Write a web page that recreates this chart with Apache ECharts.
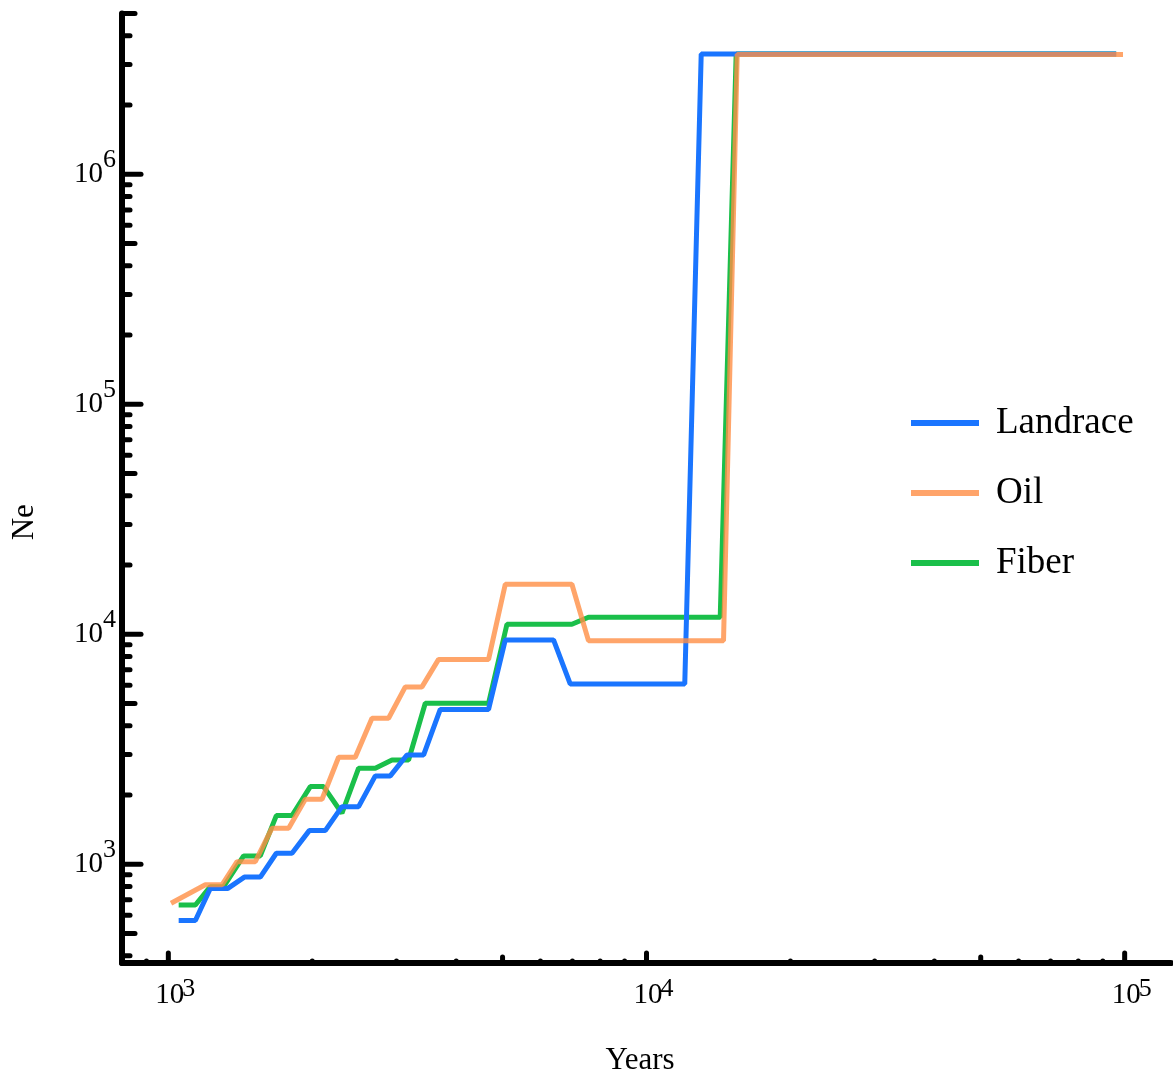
<!DOCTYPE html>
<html>
<head>
<meta charset="utf-8">
<script src="https://cdn.jsdelivr.net/npm/echarts@6/dist/echarts.min.js"></script>
<style>
  html, body { margin: 0; padding: 0; background: #ffffff; }
  #chart { width: 1173px; height: 1077px; }
</style>
</head>
<body>
<div id="chart"></div>
<script>
// Effective population size (Ne) through time, [years, Ne]
const landrace = [
  [1051, 569], [1139, 569], [1224, 785], [1332, 785], [1442, 879], [1557, 879],
  [1682, 1116], [1814, 1116], [1971, 1400], [2129, 1400], [2307, 1780], [2500, 1780],
  [2709, 2421], [2912, 2421], [3155, 2987], [3419, 2987], [3704, 4710], [4674, 4710],
  [5066, 9446], [6391, 9446], [6925, 6081], [12023, 6081], [13014, 3330000], [96000, 3330000]
];
const oil = [
  [1013, 677], [1195, 814], [1295, 814], [1392, 1026], [1520, 1026], [1647, 1434],
  [1785, 1434], [1934, 1917], [2096, 1917], [2270, 2919], [2460, 2919], [2666, 4313],
  [2888, 4313], [3130, 5902], [3392, 5902], [3674, 7772], [4674, 7772], [5066, 16500],
  [6982, 16500], [7562, 9380], [14490, 9380], [15477, 3320000], [99200, 3320000]
];
const fiber = [
  [1051, 665], [1139, 665], [1224, 799], [1305, 799], [1437, 1087], [1557, 1087],
  [1682, 1627], [1814, 1627], [1981, 2175], [2112, 2175], [2307, 1666], [2500, 2615],
  [2709, 2615], [2936, 2841], [3180, 2841], [3446, 5012], [4674, 5012], [5107, 11054],
  [6982, 11054], [7562, 11855], [14262, 11855], [15400, 3330000], [96000, 3330000]
];

// Axis ranges and tick positions (log scale, ticks at 2..9 of each decade)
const xRange = [800, 125000];
const yRange = [372, 5000000];
const xTickValues = [
  800, 900, 1000, 2000, 3000, 4000, 5000, 6000, 7000, 8000, 9000,
  10000, 20000, 30000, 40000, 50000, 60000, 70000, 80000, 90000, 100000
];
const yTickValues = [
  400, 500, 600, 700, 800, 900, 1000,
  2000, 3000, 4000, 5000, 6000, 7000, 8000, 9000, 10000,
  20000, 30000, 40000, 50000, 60000, 70000, 80000, 90000, 100000,
  200000, 300000, 400000, 500000, 600000, 700000, 800000, 900000, 1000000,
  2000000, 3000000, 4000000, 5000000
];

const COLORS = { Landrace: '#1a75ff', Oil: '#ff8f45', Fiber: '#1abf4a' };
const OIL_LEGEND = '#ffa46a';
const FONT = 'Liberation Serif';

// mantissa of a value on a decade: 1 -> major tick, 5 -> mid tick, else minor
function mantissa(v) {
  const e = Math.floor(Math.log10(v) + 1e-9);
  return Math.round(v / Math.pow(10, e));
}
function tickLength(v, lens) {
  const m = mantissa(v);
  return m === 1 ? lens[0] : (m === 5 ? lens[1] : lens[2]);
}
function exponentOf(v) {
  const l = Math.log10(v);
  const r = Math.round(l);
  return Math.abs(l - r) < 1e-6 ? r : null;
}

const X_TICK_LEN = [10, 6, 2];
const Y_TICK_LEN = [19, 13, 8];

function xTickItem(params, api) {
  const v = api.value(0);
  const p = api.coord([v, yRange[0]]);
  const len = tickLength(v, X_TICK_LEN);
  return {
    type: 'line',
    shape: { x1: p[0], y1: p[1], x2: p[0], y2: p[1] - len },
    style: { stroke: '#000', lineWidth: 5, lineCap: 'round' }
  };
}
function yTickItem(params, api) {
  const v = api.value(1);
  const p = api.coord([xRange[0], v]);
  const len = tickLength(v, Y_TICK_LEN);
  return {
    type: 'line',
    shape: { x1: p[0], y1: p[1], x2: p[0] + len, y2: p[1] },
    style: { stroke: '#000', lineWidth: 5, lineCap: 'round' }
  };
}

const chart = echarts.init(document.getElementById('chart'), null, { renderer: 'canvas' });

const option = {
  animation: false,
  backgroundColor: '#ffffff',
  grid: { left: 122, right: 2, top: 13.5, bottom: 114, containLabel: false, outerBoundsMode: 'none' },
  legend: {
    orient: 'vertical',
    left: 906,
    top: 398,
    padding: 5,
    icon: 'rect',
    itemWidth: 68,
    itemHeight: 6,
    itemGap: 30,
    selectedMode: false,
    textStyle: { fontFamily: FONT, fontSize: 37, lineHeight: 40, color: '#000', padding: [0, 0, 0, 12] },
    data: [
      { name: 'Landrace', itemStyle: { color: COLORS.Landrace } },
      { name: 'Oil', itemStyle: { color: OIL_LEGEND } },
      { name: 'Fiber', itemStyle: { color: COLORS.Fiber } }
    ]
  },
  xAxis: {
    type: 'log',
    logBase: 10,
    min: xRange[0],
    max: xRange[1],
    name: 'Years',
    nameLocation: 'middle',
    nameGap: 82,
    nameTextStyle: { fontFamily: FONT, fontSize: 31, color: '#000', padding: [0, 13, 0, 0] },
    axisLine: { show: true, lineStyle: { color: '#000', width: 6 } },
    axisTick: { show: false },
    minorTick: { show: false },
    splitLine: { show: false },
    axisLabel: {
      margin: 13,
      showMinLabel: false,
      showMaxLabel: false,
      formatter: function (v) {
        const e = exponentOf(v);
        return e === null ? '' : '{p| }{b|10}{s|' + e + '}';
      },
      rich: {
        p: { width: 16, fontSize: 10 },
        b: { fontFamily: FONT, fontSize: 29, lineHeight: 38, width: 25, color: '#000' },
        s: { fontFamily: FONT, fontSize: 26, lineHeight: 26, verticalAlign: 'top', color: '#000' }
      }
    }
  },
  yAxis: {
    type: 'log',
    logBase: 10,
    min: yRange[0],
    max: yRange[1],
    name: 'Ne',
    nameLocation: 'middle',
    nameGap: 82,
    nameRotate: 90,
    nameTextStyle: { fontFamily: FONT, fontSize: 31, color: '#000', padding: [0, 68, 0, 0] },
    axisLine: { show: true, lineStyle: { color: '#000', width: 6 } },
    axisTick: { show: false },
    minorTick: { show: false },
    splitLine: { show: false },
    axisLabel: {
      margin: 6,
      showMinLabel: false,
      showMaxLabel: false,
      formatter: function (v) {
        const e = exponentOf(v);
        return e === null ? '' : '{b|10}{s|' + e + '}';
      },
      rich: {
        b: { fontFamily: FONT, fontSize: 29, lineHeight: 54, width: 27, color: '#000' },
        s: { fontFamily: FONT, fontSize: 26, lineHeight: 24, verticalAlign: 'top', color: '#000' }
      }
    }
  },
  series: [
    {
      name: 'Fiber', type: 'line', data: fiber, symbol: 'none', showSymbol: false,
      lineStyle: { width: 5, color: COLORS.Fiber }, itemStyle: { color: COLORS.Fiber },
      silent: true, z: 2
    },
    {
      name: 'Landrace', type: 'line', data: landrace, symbol: 'none', showSymbol: false,
      lineStyle: { width: 5, color: COLORS.Landrace }, itemStyle: { color: COLORS.Landrace },
      silent: true, z: 3
    },
    {
      name: 'Oil', type: 'line', data: oil, symbol: 'none', showSymbol: false,
      lineStyle: { width: 5, color: COLORS.Oil, opacity: 0.8 }, itemStyle: { color: COLORS.Oil },
      silent: true, z: 4
    },
    {
      name: 'xTicks', type: 'custom', renderItem: xTickItem,
      data: xTickValues.map(v => [v, yRange[0]]), encode: { x: 0, y: 1 },
      silent: true, z: 5
    },
    {
      name: 'yTicks', type: 'custom', renderItem: yTickItem,
      data: yTickValues.map(v => [xRange[0], v]), encode: { x: 0, y: 1 },
      silent: true, z: 5
    }
  ]
};

chart.setOption(option);
</script>
</body>
</html>
